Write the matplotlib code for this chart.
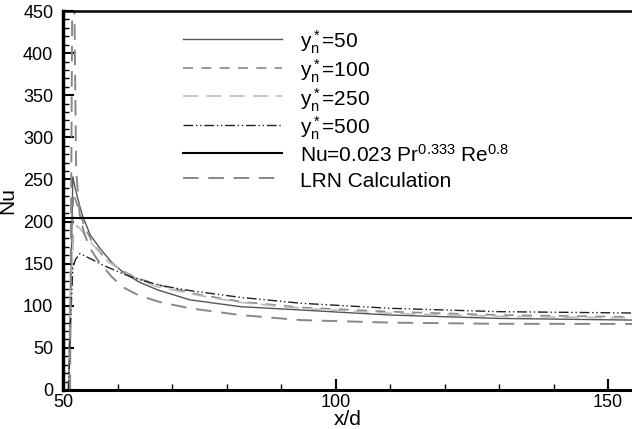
import matplotlib
matplotlib.use("Agg")
import matplotlib.pyplot as plt
from matplotlib.ticker import MultipleLocator

plt.rcParams['font.family'] = ['Liberation Sans', 'DejaVu Sans']
plt.rcParams['mathtext.fontset'] = 'custom'
plt.rcParams['mathtext.rm'] = 'Liberation Sans'
plt.rcParams['mathtext.it'] = 'Liberation Sans'
plt.rcParams['mathtext.bf'] = 'Liberation Sans'

# ---- data ----
x_y50 = [51.0, 51.5, 51.8, 52.3, 53.0, 53.7, 55.0, 56.8, 59.0, 61.0, 64.0, 67.3, 73.3, 82.5, 93.6, 110.0, 130.0, 154.6]
nu_y50 = [0, 150, 253, 238, 220, 205, 184, 168, 151, 140, 128, 119, 107, 99, 95, 89, 85, 83]

x_y100 = [51.0, 51.5, 51.9, 52.5, 53.2, 54.0, 55.5, 58.0, 61.0, 64.0, 68.0, 75.2, 82.5, 93.6, 110.0, 130.0, 154.6]
nu_y100 = [0, 140, 234, 222, 208, 193, 174, 154, 141, 132, 124, 113, 105, 98, 93, 89, 86.7]

x_y250 = [51.0, 51.5, 52.0, 52.6, 53.3, 55.0, 58.0, 62.0, 67.0, 75.2, 82.5, 93.6, 110.0, 130.0, 154.6]
nu_y250 = [0, 120, 190, 195, 190, 176, 154, 137, 123, 112, 104, 97, 91, 87.5, 85.5]

x_y500 = [51.0, 51.4, 51.8, 52.3, 53.1, 55.0, 57.4, 61.0, 64.0, 68.0, 73.3, 82.5, 93.6, 110.0, 130.0, 154.6]
nu_y500 = [0, 80, 145, 155, 162, 156, 148, 138, 131, 124, 118, 110, 103, 97, 93, 91.4]

nu_corr = 204

x_lrn = [51.3, 51.7, 52.0, 52.4, 53.1, 54.0, 55.0, 56.8, 57.4, 59.0, 61.0, 64.0, 68.0, 73.3, 82.5, 93.6, 110.0, 130.0, 154.6]
nu_lrn = [0, 470, 520, 262, 205, 184, 168, 150, 146, 134, 122, 112, 104, 97, 89, 83, 80, 78.6, 78.4]

labels = [r'$\mathregular{y_n^*}$=50', r'$\mathregular{y_n^*}$=100', r'$\mathregular{y_n^*}$=250',
          r'$\mathregular{y_n^*}$=500', r'Nu=0.023 Pr$^{\mathregular{0.333}}$ Re$^{\mathregular{0.8}}$',
          'LRN Calculation']

fig = plt.figure(figsize=(6.32, 4.29), dpi=100)
ax = fig.add_axes([63/632, 1 - 390/429, 1 - 63/632 + 0.002, (390 - 11)/429])

ax.plot(x_y50, nu_y50, color='#555555', lw=1.0, ls='-', label=labels[0])
ax.plot(x_y100, nu_y100, color='#888888', lw=1.2, ls=(0, (6, 5)), label=labels[1])
ax.plot(x_y250, nu_y250, color='#bbbbbb', lw=1.2, ls=(0, (9, 5)), label=labels[2])
ax.plot(x_y500, nu_y500, color='#222222', lw=1.0, ls=(0, (7, 2, 1, 2, 1, 2)), label=labels[3])
ax.axhline(nu_corr, color='black', lw=1.5, label=labels[4])
ax.plot(x_lrn, nu_lrn, color='#888888', lw=1.4, ls=(0, (8, 5)), label=labels[5])

ax.set_xlim(50, 154.6)
ax.set_ylim(0, 450)

ax.xaxis.set_major_locator(MultipleLocator(50))
ax.xaxis.set_minor_locator(MultipleLocator(10))
ax.yaxis.set_major_locator(MultipleLocator(50))
ax.yaxis.set_minor_locator(MultipleLocator(10))
ax.tick_params(which='major', direction='in', length=8, width=1.5, labelsize=13,
               top=False, right=False)
ax.tick_params(axis='x', which='major', pad=3)
ax.tick_params(axis='y', which='major', pad=7)
ax.tick_params(which='minor', direction='in', length=4.5, width=1.0, top=False, right=False)

ax.spines['left'].set_linewidth(2.5)
ax.spines['bottom'].set_linewidth(2.2)
ax.spines['top'].set_linewidth(1.8)
ax.spines['right'].set_visible(False)

ax.set_xlabel('x/d', fontsize=15, labelpad=-1)
ax.set_ylabel('Nu', fontsize=15, labelpad=4)

leg = ax.legend(loc='upper left', bbox_to_anchor=((183 - 63) / 569, 0.953), frameon=False,
                fontsize=15, handlelength=4.75, handletextpad=0.85, labelspacing=0.06,
                handleheight=1.38, borderpad=0, borderaxespad=0)

fig.savefig('out.png', dpi=100)
